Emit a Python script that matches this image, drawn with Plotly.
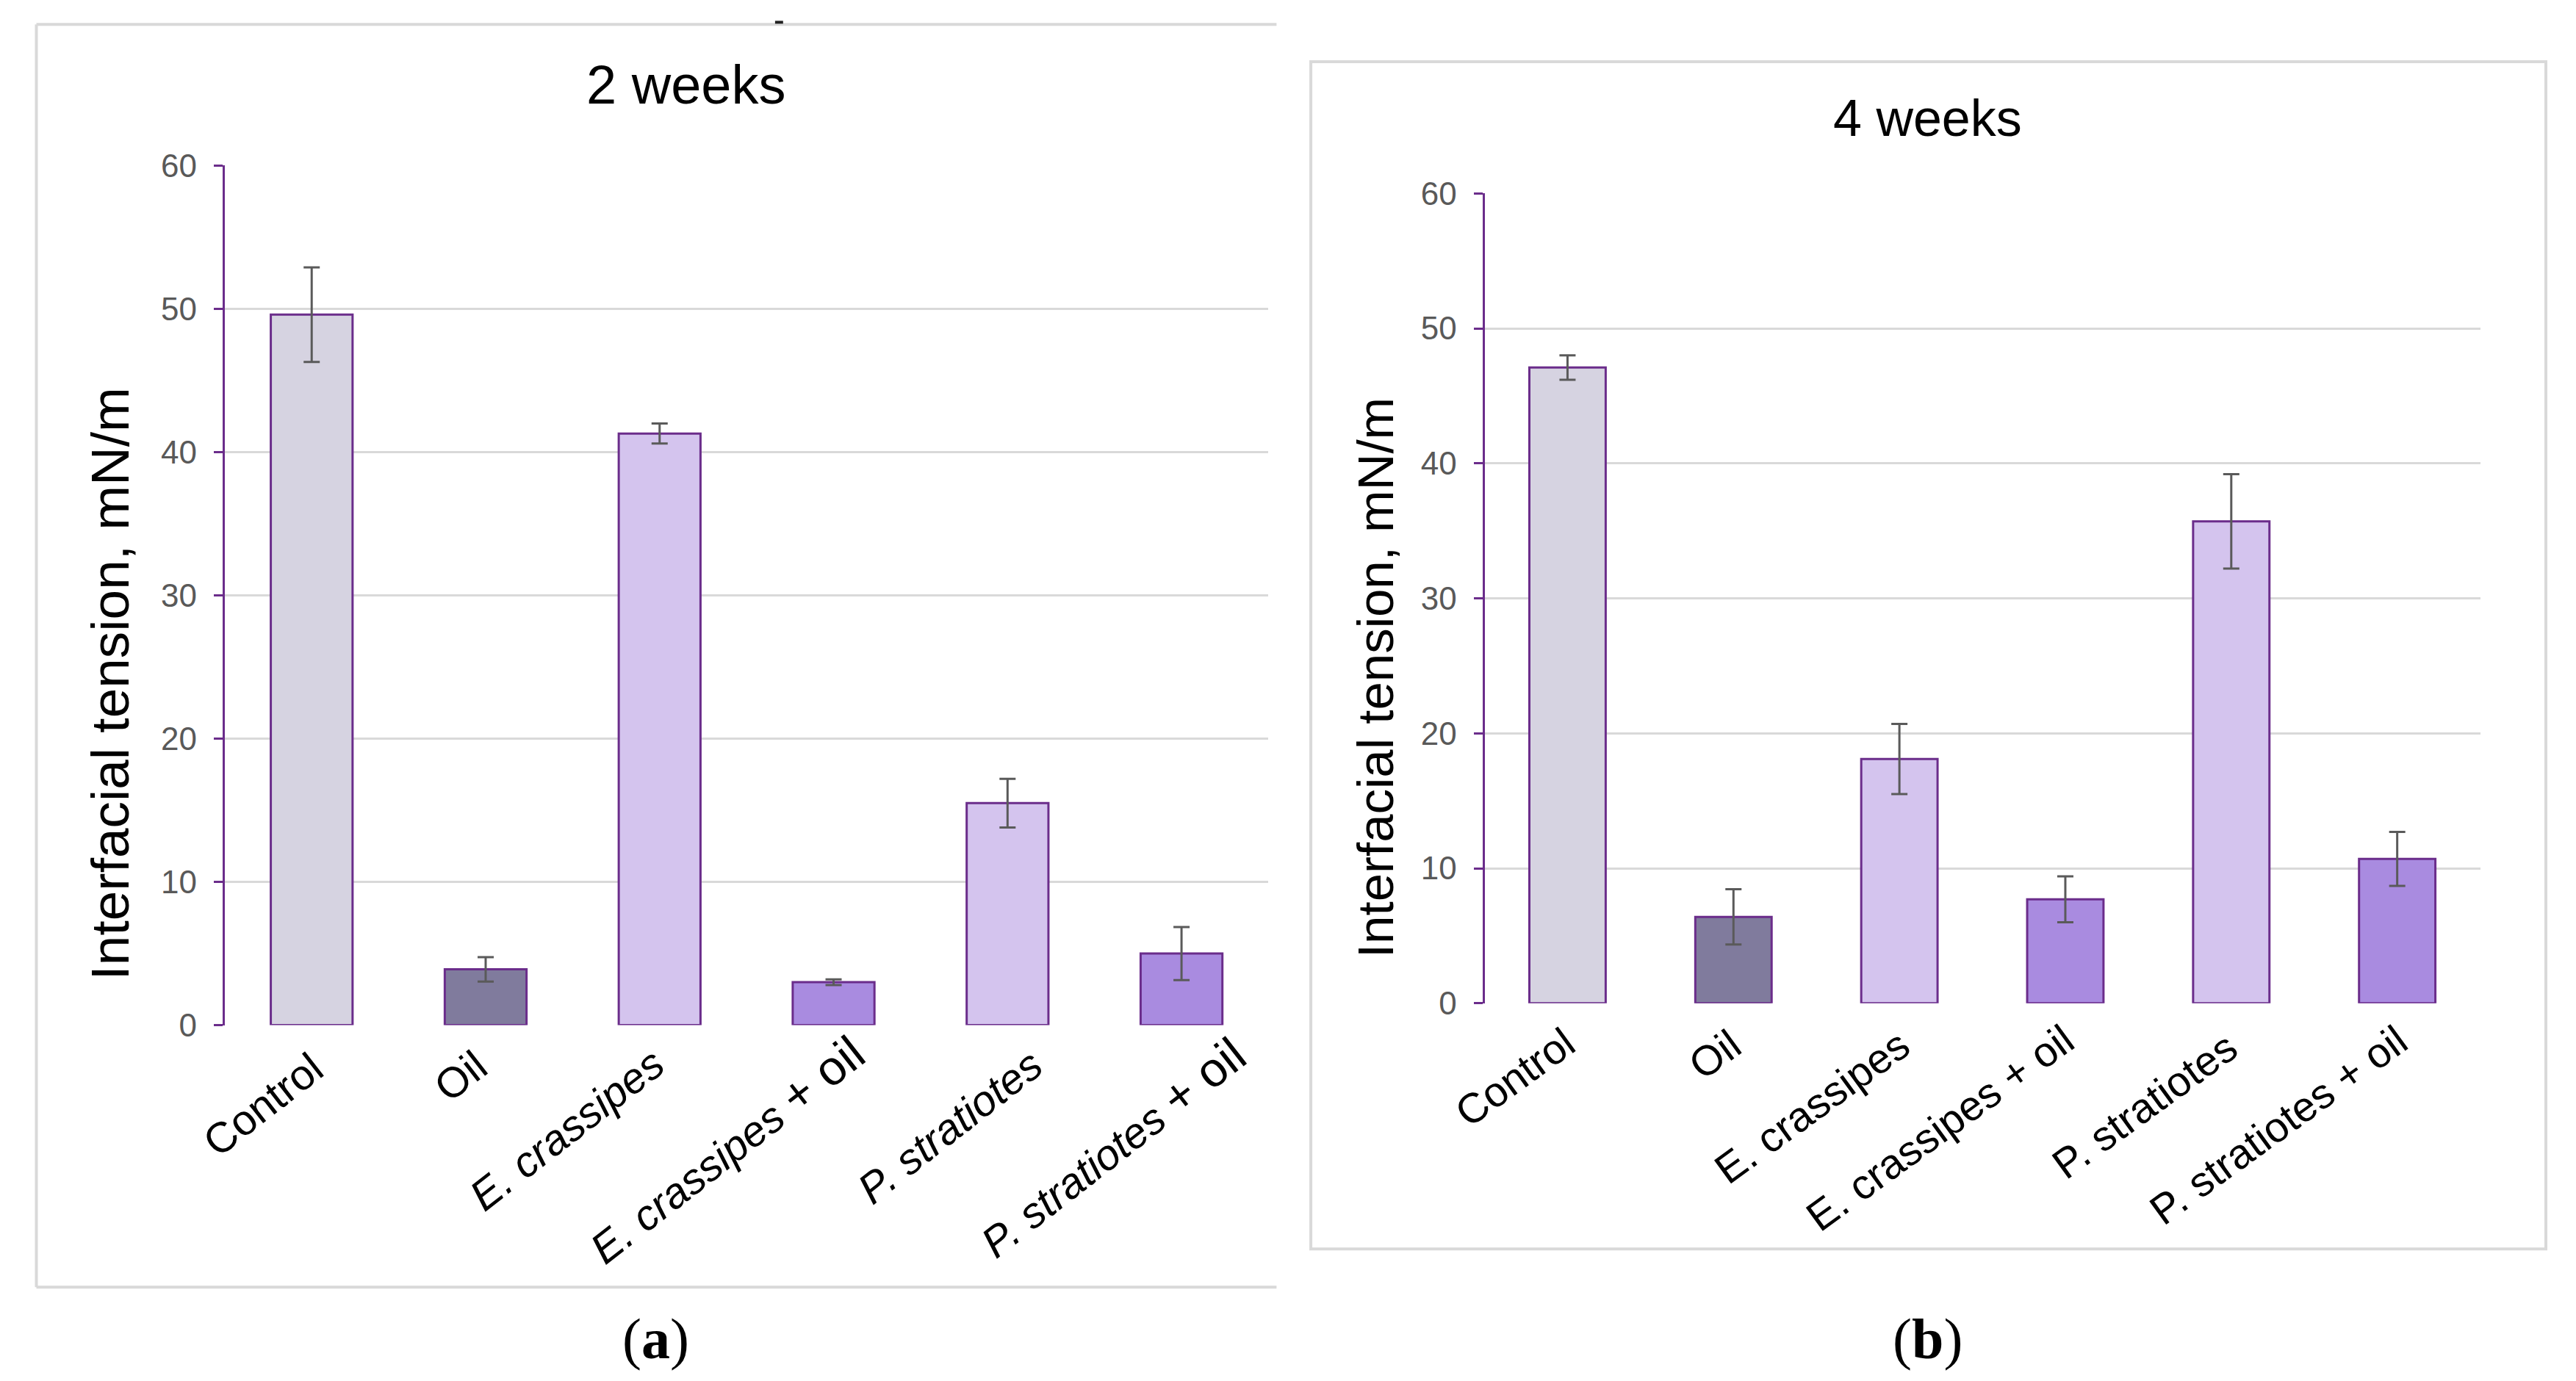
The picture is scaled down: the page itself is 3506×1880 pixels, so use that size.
import plotly.graph_objects as go

W, H = 3506, 1880

categories = ["Control", "Oil", "E. crassipes", "E. crassipes + oil", "P. stratiotes", "P. stratiotes + oil"]
labels_a = ["Control", "Oil", "<i>E. crassipes</i>",
            "<i>E. crassipes</i> <span style='font-size:66px'>+ oil</span>",
            "<i>P. stratiotes</i>",
            "<i>P. stratiotes</i> <span style='font-size:66px'>+ oil</span>"]
labels_b = ["Control", "Oil", "E. crassipes", "E. crassipes + oil", "P. stratiotes", "P. stratiotes + oil"]

week2_mean = [49.6, 3.9, 41.3, 3.0, 15.5, 5.0]
week2_err = [3.3, 0.85, 0.7, 0.2, 1.7, 1.85]
week4_mean = [47.1, 6.4, 18.1, 7.7, 35.7, 10.7]
week4_err = [0.9, 2.05, 2.6, 1.7, 3.5, 2.0]

bar_colors = ["#D6D3E1", "#807B9D", "#D4C4EE", "#A98BE0", "#D4C4EE", "#A98BE0"]
y_ticks = [0, 10, 20, 30, 40, 50, 60]

# label centre positions in picture pixels (layout only)
label_pos_a = [(355, 1510), (626, 1471), (771, 1544), (990, 1572), (1296, 1540), (1519, 1569)]
label_pos_b = [(2071, 1473), (2345, 1442), (2477, 1514), (2653, 1542), (2933, 1512), (3117, 1538)]

OUTLINE = "#6B2D8B"
GRID = "#D9D9D9"

# mapping from target picture pixels to paper coordinates (compensates page offset/scale)
DY, SY = 33.7, 0.978


def px(x):
    return ((x - 3.2) / 1.0066) / W


def py(y):
    return 1 - (y - DY) / (H * SY)


fig = go.Figure()

fig.add_trace(go.Bar(
    x=categories, y=week2_mean, xaxis="x", yaxis="y", width=0.47,
    marker=dict(color=bar_colors, line=dict(color=OUTLINE, width=3)),
    error_y=dict(type="data", array=week2_err, color="#5A5A5A", thickness=3, width=11),
    showlegend=False,
))
fig.add_trace(go.Bar(
    x=categories, y=week4_mean, xaxis="x2", yaxis="y2", width=0.46,
    marker=dict(color=bar_colors, line=dict(color=OUTLINE, width=3)),
    error_y=dict(type="data", array=week4_err, color="#5A5A5A", thickness=3, width=11),
    showlegend=False,
))

font_family = "Liberation Sans, Arial, sans-serif"

xcommon = dict(showgrid=False, zeroline=False, showline=False, ticks="", showticklabels=False,
               type="category", range=[-0.5, 5.5], fixedrange=True)
ycommon = dict(range=[0, 60], tickvals=y_ticks, showgrid=True, gridcolor=GRID, gridwidth=3,
               zeroline=False, showline=True, linecolor=OUTLINE, linewidth=3,
               ticks="outside", ticklen=12, tickwidth=3, tickcolor=OUTLINE, ticklabelstandoff=14,
               tickfont=dict(family=font_family, size=44, color="#595959"))

fig.update_layout(
    width=W, height=H,
    margin=dict(l=0, r=0, t=0, b=0),
    paper_bgcolor="white", plot_bgcolor="white",
    xaxis=dict(domain=[px(303), px(1733)], anchor="y", **xcommon),
    yaxis=dict(domain=[py(1402), py(227)], anchor="x", **ycommon),
    xaxis2=dict(domain=[px(2029), px(3393)], anchor="y2", **xcommon),
    yaxis2=dict(domain=[py(1372), py(265)], anchor="x2", **ycommon),
)

# panel borders
fig.add_shape(type="line", xref="paper", yref="paper", x0=px(45), x1=px(1744), y0=py(34), y1=py(34),
              line=dict(color=GRID, width=4))
fig.add_shape(type="line", xref="paper", yref="paper", x0=px(45), x1=px(45), y0=py(34), y1=py(1760),
              line=dict(color=GRID, width=4))
fig.add_shape(type="line", xref="paper", yref="paper", x0=px(45), x1=px(1744), y0=py(1760), y1=py(1760),
              line=dict(color=GRID, width=4))
fig.add_shape(type="rect", xref="paper", yref="paper", x0=px(1791), x1=px(3483), y0=py(85), y1=py(1708),
              line=dict(color=GRID, width=4), fillcolor="rgba(0,0,0,0)", layer="below")
# small dark mark on the top border
fig.add_shape(type="line", xref="paper", yref="paper", x0=px(1057), x1=px(1068), y0=py(31), y1=py(31),
              line=dict(color="#222222", width=4))

ann = []
for txt, (cx, cy) in zip(labels_a, label_pos_a):
    ann.append(dict(text=txt, x=px(cx), y=py(cy), xref="paper", yref="paper", showarrow=False,
                    textangle=-38, xanchor="center", yanchor="middle",
                    font=dict(family=font_family, size=58, color="black")))
for txt, (cx, cy) in zip(labels_b, label_pos_b):
    ann.append(dict(text=txt, x=px(cx), y=py(cy), xref="paper", yref="paper", showarrow=False,
                    textangle=-36, xanchor="center", yanchor="middle",
                    font=dict(family=font_family, size=57, color="black")))

ann.append(dict(text="2 weeks", x=px(935), y=py(117), xref="paper", yref="paper", showarrow=False,
                font=dict(family=font_family, size=74, color="black"), xanchor="center", yanchor="middle"))
ann.append(dict(text="4 weeks", x=px(2636), y=py(162), xref="paper", yref="paper", showarrow=False,
                font=dict(family=font_family, size=70, color="black"), xanchor="center", yanchor="middle"))
ann.append(dict(text="Interfacial tension, mN/m", x=px(146), y=py(935), xref="paper", yref="paper",
                showarrow=False, textangle=-90,
                font=dict(family=font_family, size=73, color="black"), xanchor="center", yanchor="middle"))
ann.append(dict(text="Interfacial tension, mN/m", x=px(1880), y=py(927), xref="paper", yref="paper",
                showarrow=False, textangle=-90,
                font=dict(family=font_family, size=69, color="black"), xanchor="center", yanchor="middle"))
ann.append(dict(text="(<b>a</b>)", x=px(894), y=py(1831), xref="paper", yref="paper", showarrow=False,
                font=dict(family="Liberation Serif, Times New Roman, serif", size=78, color="black"),
                xanchor="center", yanchor="middle"))
ann.append(dict(text="(<b>b</b>)", x=px(2636), y=py(1831), xref="paper", yref="paper", showarrow=False,
                font=dict(family="Liberation Serif, Times New Roman, serif", size=78, color="black"),
                xanchor="center", yanchor="middle"))
fig.update_layout(annotations=ann)

fig.write_html("out.html")
